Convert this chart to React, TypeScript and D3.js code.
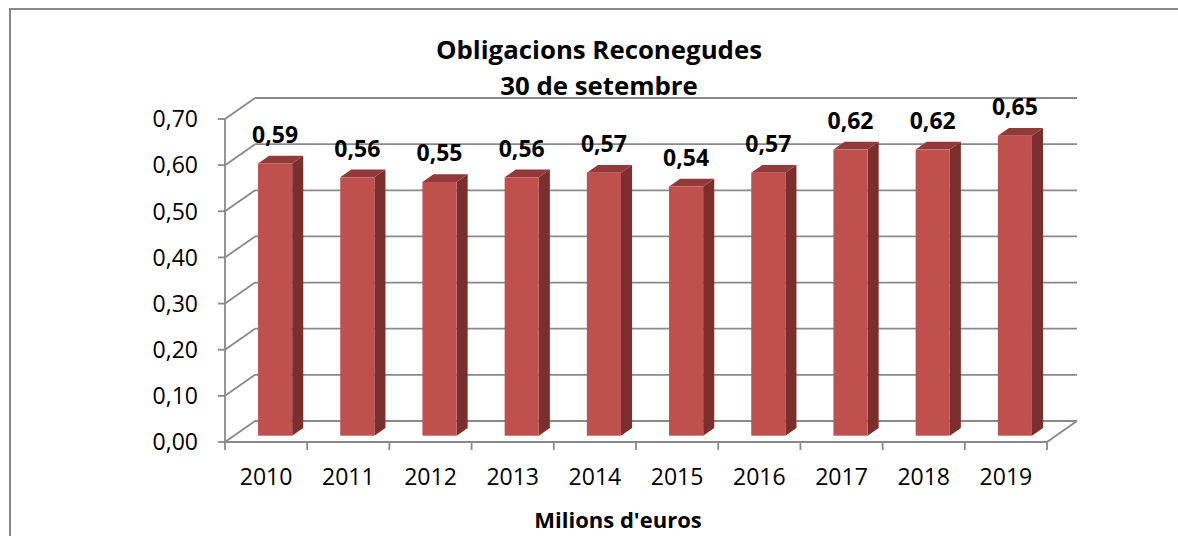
import React, { useEffect, useRef } from 'react';
import * as d3 from 'd3';

const years = ['2010', '2011', '2012', '2013', '2014', '2015', '2016', '2017', '2018', '2019'];
const values = [0.59, 0.56, 0.55, 0.56, 0.57, 0.54, 0.57, 0.62, 0.62, 0.65];
const yTicks = [0, 0.1, 0.2, 0.3, 0.4, 0.5, 0.6, 0.7];
const titleLines = ['Obligacions Reconegudes', '30 de setembre'];
const axisTitle = "Milions d'euros";

const FONT = "'Open Sans', 'Liberation Sans', sans-serif";

const App = () => {
  const svgRef = useRef<SVGSVGElement>(null);

  useEffect(() => {
    const svg = d3.select(svgRef.current);
    svg.selectAll('*').remove();

    const width = 1178;
    const height = 536;
    // front plane of the 3d box, and how far the back wall is pushed
    const left = 225;
    const right = 1047;
    const bottom = 442;
    const depthX = 30;
    const depthY = -21;
    const grid = '#898989';

    const x = d3.scaleBand().domain(years).range([left, right]).padding(0);
    const y = d3.scaleLinear().domain([0, 0.7]).range([bottom, 119]);

    // project a point at depth z (0 = front, 1 = back wall)
    const px = (xv: number, z: number) => xv + z * depthX;
    const py = (yv: number, z: number) => yv + z * depthY;

    // outer chart frame
    svg.append('rect')
      .attr('x', 10).attr('y', 9)
      .attr('width', width + 20).attr('height', height + 20)
      .attr('fill', '#fff')
      .attr('stroke', grid)
      .attr('stroke-width', 2);

    const g = svg.append('g');

    // back wall gridlines
    g.selectAll('.back-grid')
      .data(yTicks)
      .enter()
      .append('line')
      .attr('x1', px(left, 1)).attr('x2', px(right, 1))
      .attr('y1', (d) => py(y(d), 1)).attr('y2', (d) => py(y(d), 1))
      .attr('stroke', grid).attr('stroke-width', 1.8);

    // side wall gridlines
    g.selectAll('.side-grid')
      .data(yTicks)
      .enter()
      .append('line')
      .attr('x1', left).attr('x2', px(left, 1))
      .attr('y1', (d) => y(d)).attr('y2', (d) => py(y(d), 1))
      .attr('stroke', grid).attr('stroke-width', 1.8);

    // floor: front edge, right edge
    g.append('line')
      .attr('x1', left).attr('x2', right)
      .attr('y1', bottom).attr('y2', bottom)
      .attr('stroke', grid).attr('stroke-width', 1.8);
    g.append('line')
      .attr('x1', right).attr('x2', px(right, 1))
      .attr('y1', bottom).attr('y2', py(bottom, 1))
      .attr('stroke', grid).attr('stroke-width', 1.8);

    // value axis
    g.append('line')
      .attr('x1', left).attr('x2', left)
      .attr('y1', y(0.7)).attr('y2', bottom)
      .attr('stroke', grid).attr('stroke-width', 1.8);
    g.selectAll('.ytick')
      .data(yTicks)
      .enter()
      .append('line')
      .attr('x1', left - 7).attr('x2', left)
      .attr('y1', (d) => y(d)).attr('y2', (d) => y(d))
      .attr('stroke', grid).attr('stroke-width', 1.8);
    g.selectAll('.ylabel')
      .data(yTicks)
      .enter()
      .append('text')
      .attr('x', 198)
      .attr('y', (d) => y(d))
      .attr('dy', '0.36em')
      .attr('text-anchor', 'end')
      .style('font-family', FONT)
      .style('font-size', '23px')
      .text((d) => d3.format('.2f')(d).replace('.', ','));

    // category ticks and labels
    const edges = years.map((d) => x(d) as number).concat([right]);
    g.selectAll('.xtick')
      .data(edges)
      .enter()
      .append('line')
      .attr('x1', (d) => d).attr('x2', (d) => d)
      .attr('y1', bottom).attr('y2', bottom + 8)
      .attr('stroke', grid).attr('stroke-width', 1.8);
    g.selectAll('.xlabel')
      .data(years)
      .enter()
      .append('text')
      .attr('x', (d) => (x(d) as number) + x.bandwidth() / 2)
      .attr('y', 485)
      .attr('text-anchor', 'middle')
      .style('font-family', FONT)
      .style('font-size', '23px')
      .text((d) => d);

    // bars
    const z0 = 0.3;
    const z1 = 0.67;
    const barW = x.bandwidth() * 0.415;
    const bars = g.selectAll('.bar')
      .data(values.map((v, i) => ({ year: years[i], value: v })))
      .enter()
      .append('g');

    const fx0 = (d: { year: string }) => px((x(d.year) as number) + (x.bandwidth() - barW) / 2, z0);
    const fx1 = (d: { year: string }) => fx0(d) + barW;

    // side face
    bars.append('path')
      .attr('d', (d) => {
        const xa = fx1(d);
        const xb = xa + (z1 - z0) * depthX;
        const ya = py(y(0), z0);
        const yt = py(y(d.value), z0);
        const dy = (z1 - z0) * depthY;
        return `M${xa},${ya}L${xa},${yt}L${xb},${yt + dy}L${xb},${ya + dy}Z`;
      })
      .attr('fill', '#7b2f2d');

    // top face
    bars.append('path')
      .attr('d', (d) => {
        const xa = fx0(d);
        const xb = fx1(d);
        const yt = py(y(d.value), z0);
        const ddx = (z1 - z0) * depthX;
        const ddy = (z1 - z0) * depthY;
        return `M${xa},${yt}L${xb},${yt}L${xb + ddx},${yt + ddy}L${xa + ddx},${yt + ddy}Z`;
      })
      .attr('fill', '#93393a');

    // front face
    bars.append('rect')
      .attr('x', (d) => fx0(d))
      .attr('y', (d) => py(y(d.value), z0))
      .attr('width', barW)
      .attr('height', (d) => y(0) - y(d.value))
      .attr('fill', '#c0504d');

    // data labels
    bars.append('text')
      .attr('x', (d) => fx0(d) + barW / 2)
      .attr('y', (d) => py(y(d.value), z1) - 13)
      .attr('text-anchor', 'middle')
      .style('font-family', FONT)
      .style('font-size', '23px')
      .style('font-weight', 'bold')
      .text((d) => d3.format('.2f')(d.value).replace('.', ','));

    // titles
    svg.selectAll('.title')
      .data(titleLines)
      .enter()
      .append('text')
      .attr('x', 599)
      .attr('y', (d, i) => 59 + i * 36)
      .attr('text-anchor', 'middle')
      .style('font-family', FONT)
      .style('font-size', '25.8px')
      .style('font-weight', 'bold')
      .text((d) => d);

    svg.append('text')
      .attr('x', 618)
      .attr('y', 528)
      .attr('text-anchor', 'middle')
      .style('font-family', FONT)
      .style('font-size', '22px')
      .style('font-weight', 'bold')
      .text(axisTitle);
  }, []);

  return (
    <svg
      ref={svgRef}
      width={1178}
      height={536}
      style={{ position: 'absolute', left: 0, top: 0, display: 'block' }}
    />
  );
};

export default App;
